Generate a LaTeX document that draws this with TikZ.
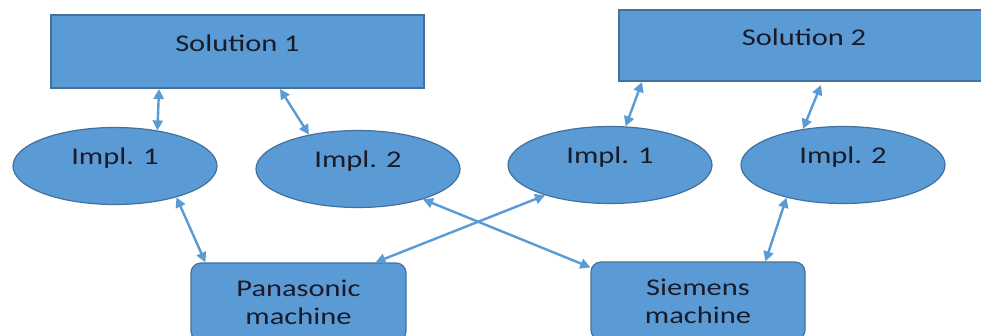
\documentclass[tikz,border=0pt]{standalone}
\usepackage{fontspec}
\setmainfont{Carlito}[FakeStretch=1.27]
\usetikzlibrary{arrows.meta,shapes.geometric}
\definecolor{fillb}{HTML}{5B9BD5}
\definecolor{edgeb}{HTML}{41719C}
\definecolor{txt}{HTML}{1A1A28}
\begin{document}
\begin{tikzpicture}[x=1pt,y=-1pt,
  box/.style={draw=edgeb, line width=2pt, fill=fillb, inner sep=0pt},
  ell/.style={ellipse, draw=edgeb, line width=1.2pt, fill=fillb, inner sep=0pt, minimum width=204pt, minimum height=77pt},
  mach/.style={draw=edgeb, line width=1.2pt, fill=fillb, rounded corners=10pt, inner sep=0pt, minimum width=215pt, minimum height=78pt, align=center, text=txt, font=\fontsize{24}{28}\selectfont},
  lnk/.style={{Triangle[length=10pt,width=10pt]}-{Triangle[length=10pt,width=10pt]}, draw=fillb, line width=2.4pt},
  lbl/.style={text=txt, font=\fontsize{24}{28}\selectfont, inner sep=0pt}]
\useasboundingbox (0,0) rectangle (981,335);
\clip (0,0) rectangle (981,335);
\fill[white] (0,0) rectangle (981,335);

\node[box, minimum width=373pt, minimum height=73pt, label={[lbl, yshift=8pt]center:Solution 1}] (sol1) at (237.5,51.5) {};
\node[box, minimum width=370pt, minimum height=71pt, label={[lbl, yshift=8pt]center:Solution 2}] (sol2) at (804,45.5) {};

\node[ell, label={[lbl, yshift=8pt]center:Impl. 1}] (ia1) at (115,166) {};
\node[ell, label={[lbl, yshift=8pt]center:Impl. 2}] (ia2) at (358,169) {};
\node[ell, label={[lbl, yshift=8pt]center:Impl. 1}] (ib1) at (610,165) {};
\node[ell, label={[lbl, yshift=8pt]center:Impl. 2}] (ib2) at (843,165) {};

\node[mach] (pan) at (298.5,302) {Panasonic\\machine};
\node[mach, minimum width=214pt] (sie) at (698,301) {Siemens\\machine};

\draw[lnk] ([xshift=109pt]sol1.south west) -- (ia1.40);
\draw[lnk] ([xshift=230pt]sol1.south west) -- (ia2.145);
\draw[lnk] ([xshift=24pt]sol2.south west) -- (ib1.68);
\draw[lnk] ([xshift=203pt,yshift=-3pt]sol2.south west) -- (ib2.138);

\draw[lnk] (ia1.-27) -- ([xshift=15pt]pan.north west);
\draw[lnk] (ib1.-155) -- ([xshift=185pt]pan.north west);
\draw[lnk] (ia2.-25) -- ([yshift=-6pt]sie.north west);
\draw[lnk] (ib2.-150) -- ([xshift=175pt]sie.north west);
\end{tikzpicture}
\end{document}
